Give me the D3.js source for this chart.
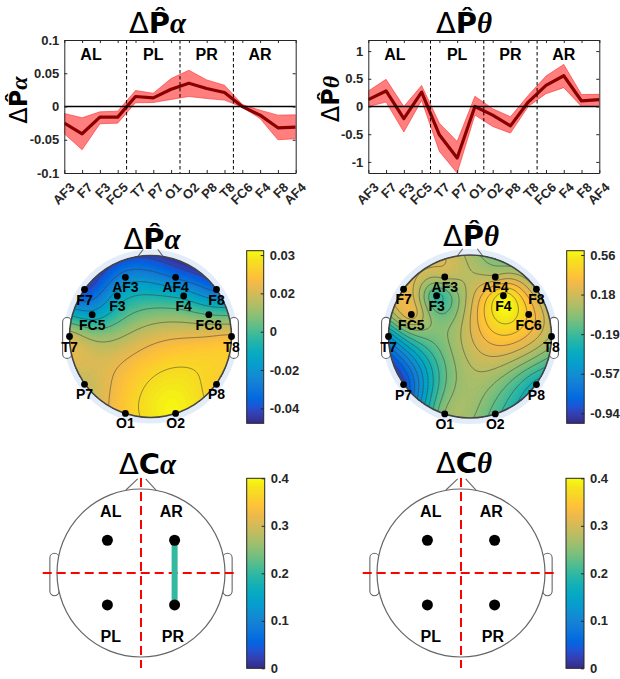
<!DOCTYPE html>
<html><head><meta charset="utf-8">
<script src="https://cdn.jsdelivr.net/npm/d3@7"></script>
<style>body{margin:0;background:#fff} svg{display:block} text{font-family:"Liberation Sans",Arial,Helvetica,sans-serif}</style>
</head><body><svg id="c" width="620" height="679"></svg>
<script>
// ---------------- data ----------------
const channels = ["AF3","F7","F3","FC5","T7","P7","O1","O2","P8","T8","FC6","F4","F8","AF4"];
const regions = ["AL","PL","PR","AR"];
const regionSizes = [4,3,3,4];

const alphaMean  = [-0.025,-0.041,-0.016,-0.016,0.015,0.013,0.026,0.035,0.027,0.021,0.000,-0.013,-0.032,-0.031];
const alphaUpper = [-0.0105,-0.017,-0.008,-0.007,0.024,0.020,0.042,0.0545,0.040,0.032,0.003,-0.0055,-0.013,-0.0125];
const alphaLower = [-0.041,-0.065,-0.026,-0.025,0.0056,0.006,0.0106,0.015,0.012,0.0096,-0.001,-0.018,-0.050,-0.0485];

const thetaMean  = [0.125,0.28,-0.22,0.26,-0.51,-0.93,0.0,-0.155,-0.35,0.08,0.38,0.555,0.10,0.125];
const thetaUpper = [0.28,0.49,0.0,0.38,-0.30,-0.63,0.185,-0.04,-0.185,0.20,0.55,0.76,0.215,0.22];
const thetaLower = [0.0,0.08,-0.46,0.11,-0.81,-1.2,-0.155,-0.36,-0.48,0.0,0.23,0.34,0.0,0.0];

const alphaYDomain = [-0.1, 0.1];
const alphaYTicks = [-0.1,-0.05,0,0.05,0.1];
const alphaYTickLabels = ["-0.1","-0.05","0","0.05","0.1"];
const thetaYDomain = [-1.2, 1.2];
const thetaYTicks = [-1,-0.5,0,0.5,1];
const thetaYTickLabels = ["-1","-0.5","0","0.5","1"];

// electrode locations on the scalp (unit head radius, x right, y toward back)
const chanX = [-0.31,-0.815,-0.41,-0.72,-1.0,-0.815,-0.31,0.31,0.815,1.0,0.72,0.41,0.815,0.31];
const chanY = [-0.73,-0.58,-0.50,-0.27,0.0,0.59,0.95,0.95,0.59,0.0,-0.27,-0.50,-0.58,-0.73];

const alphaCRange = [-0.0467, 0.0366];
const alphaCTicks = [0.0345,0.016,-0.0025,-0.021,-0.0395];
const alphaCTickLabels = ["0.03","0.02","0","-0.02","-0.04"];
const thetaCRange = [-1.039, 0.599];
const thetaCTicks = [0.558,0.1825,-0.193,-0.5685,-0.944];
const thetaCTickLabels = ["0.56","0.18","-0.19","-0.57","-0.94"];

const connRegions = ["AL","AR","PL","PR"];
const connAlpha = [{from:"AR", to:"PR", value:0.2}];
const connTheta = [];
const connCRange = [0, 0.4];
const connCTicks = [0,0.1,0.2,0.3,0.4];
const connCTickLabels = ["0","0.1","0.2","0.3","0.4"];

// parula colormap (every 3rd row of the 64-row table)
const parulaRows = [
 [0.2081,0.1663,0.5292],[0.2081,0.2386,0.6771],[0.1253,0.3242,0.8303],[0.0060,0.4086,0.8828],
 [0.0498,0.4586,0.8641],[0.0779,0.5040,0.8384],[0.0641,0.5570,0.8240],[0.0265,0.6137,0.8135],
 [0.0228,0.6535,0.7768],[0.0590,0.6838,0.7254],[0.1453,0.7098,0.6646],[0.2586,0.7317,0.5954],
 [0.3953,0.7459,0.5244],[0.5300,0.7491,0.4661],[0.6473,0.7456,0.4188],[0.7525,0.7384,0.3768],
 [0.8507,0.7299,0.3360],[0.9450,0.7261,0.2886],[0.9990,0.7653,0.2164],[0.9789,0.8271,0.1633],
 [0.9589,0.8949,0.1132],[0.9763,0.9831,0.0538]];

// ---------------- helpers ----------------
const svg = d3.select("#c");
const defs = svg.append("defs");
const AXC = "#262626";
const parula = d3.scaleLinear()
  .domain(parulaRows.map((r,i)=>i/(parulaRows.length-1)))
  .range(parulaRows.map(r=>d3.rgb(r[0]*255,r[1]*255,r[2]*255)))
  .interpolate(d3.interpolateRgb).clamp(true);

function title(cx, by, size, sym, greek, hat, rotate) {
  const t = svg.append("text").attr("text-anchor","middle").attr("font-size",size).attr("fill","#000");
  if (rotate) t.attr("transform",`translate(${cx},${by}) rotate(-90)`).attr("dy","0.35em");
  else t.attr("x",cx).attr("y",by);
  t.append("tspan").attr("font-family","DejaVu Sans").attr("font-weight","normal").text("Δ");
  t.append("tspan").attr("font-family","DejaVu Sans").attr("font-weight","bold").text(hat ? sym+"\u0302" : sym);
  t.append("tspan").attr("font-family","Liberation Serif").attr("font-style","italic").attr("font-weight","bold").text(greek);
}

let clipN = 0;
function lineChart(o) {
  const g = svg.append("g");
  const x = d3.scalePoint().domain(channels).range([o.x0,o.x1]);
  const y = d3.scaleLinear().domain(o.domain).range([o.y1,o.y0]);
  const id = "clip" + (clipN++);
  defs.append("clipPath").attr("id",id).append("rect")
    .attr("x",o.x0).attr("y",o.y0).attr("width",o.x1-o.x0).attr("height",o.y1-o.y0);
  const pg = g.append("g").attr("clip-path",`url(#${id})`);
  const area = d3.area().x((d,i)=>x(channels[i])).y0((d,i)=>y(o.lo[i])).y1((d,i)=>y(o.up[i]));
  pg.append("path").datum(o.mean).attr("d",area)
    .attr("fill","#ff0000").attr("fill-opacity",0.5).attr("stroke","#ff2020").attr("stroke-opacity",0.55).attr("stroke-width",1);
  const line = d3.line().x((d,i)=>x(channels[i])).y(d=>y(d));
  pg.append("path").datum(o.mean).attr("d",line).attr("fill","none")
    .attr("stroke","#8a0000").attr("stroke-width",3.2).attr("stroke-linejoin","round");
  pg.append("line").attr("x1",o.x0).attr("x2",o.x1).attr("y1",y(0)).attr("y2",y(0))
    .attr("stroke","#000").attr("stroke-width",1.6);
  // region boundaries & labels
  const step = x.step();
  const cum = d3.cumsum(regionSizes);
  const bounds = [-0.5, ...Array.from(cum).map(c => c - 0.5)];
  bounds[bounds.length-1] = channels.length - 1.5;
  for (let k=1;k<bounds.length-1;k++) {
    const bx = o.x0 + bounds[k]*step;
    g.append("line").attr("x1",bx).attr("x2",bx).attr("y1",o.y0).attr("y2",o.y1)
      .attr("stroke","#000").attr("stroke-width",1).attr("stroke-dasharray","3.5,2.5");
  }
  regions.forEach((r,k) => {
    g.append("text").attr("x", o.x0 + (bounds[k]+bounds[k+1])/2*step).attr("y", o.y0+20)
      .attr("text-anchor","middle").attr("font-size",16).attr("font-weight","bold").attr("fill","#000").text(r);
  });
  // axes
  const style = sel => { sel.selectAll("path.domain").attr("stroke",AXC); sel.selectAll(".tick line").attr("stroke",AXC); };
  g.append("g").attr("transform",`translate(0,${o.y1})`).call(d3.axisBottom(x).tickSize(-3).tickSizeOuter(0).tickFormat("")).call(style);
  g.append("g").attr("transform",`translate(0,${o.y0})`).call(d3.axisTop(x).tickSize(-3).tickSizeOuter(0).tickFormat("")).call(style);
  const la = g.append("g").attr("transform",`translate(${o.x0},0)`)
    .call(d3.axisLeft(y).tickValues(o.ticks).tickSize(-3).tickSizeOuter(0).tickPadding(5).tickFormat((d,i)=>o.tickLabels[i])).call(style);
  la.selectAll("text").attr("font-size",13).attr("font-weight","bold").attr("fill",AXC).attr("font-family",'"Liberation Sans",Arial,sans-serif');
  g.append("g").attr("transform",`translate(${o.x1},0)`)
    .call(d3.axisRight(y).tickValues(o.ticks).tickSize(-3).tickSizeOuter(0).tickFormat("")).call(style);
  channels.forEach(c => {
    g.append("text").attr("transform",`translate(${x(c)+8},${o.y1+12}) rotate(-45)`)
      .attr("text-anchor","end").attr("dy","0.35em").attr("font-size",13).attr("font-weight","bold").attr("fill",AXC).text(c);
  });
}

function solve(A, b) {
  const n = b.length; const M = A.map((r,i)=>[...r, b[i]]);
  for (let c=0;c<n;c++){
    let p=c; for(let r=c+1;r<n;r++) if(Math.abs(M[r][c])>Math.abs(M[p][c])) p=r;
    [M[c],M[p]]=[M[p],M[c]];
    for(let r=0;r<n;r++){ if(r===c) continue; const f=M[r][c]/M[c][c]; for(let k=c;k<=n;k++) M[r][k]-=f*M[c][k]; }
  }
  return M.map((r,i)=>r[n]/r[i]);
}
function biharmonic(px, py, z) {
  const g = d => d>0 ? d*d*(Math.log(d)-1) : 0;
  const X = px.map(v=>v*0.5), Y = py.map(v=>v*0.5);
  const G = X.map((xi,i)=>X.map((xj,j)=>g(Math.hypot(xi-xj, Y[i]-Y[j]))));
  const w = solve(G, z);
  return (x,y) => { let s=0; const xs=x*0.5, ys=y*0.5; for(let j=0;j<w.length;j++) s+=w[j]*g(Math.hypot(xs-X[j], ys-Y[j])); return s; };
}

function ears(g, R, fill) {
  [-1,1].forEach(s => g.append("rect")
    .attr("x", s<0 ? -1.085*R : 0.975*R).attr("y",-0.235*R).attr("width",0.11*R).attr("height",0.505*R)
    .attr("rx",0.055*R).attr("fill",fill).attr("stroke","#666").attr("stroke-width",1.1));
}

function topo(o) {
  const R = o.R;
  const g = svg.append("g").attr("transform",`translate(${o.cx},${o.cy})`);
  g.append("circle").attr("r",R*1.075).attr("fill","#e3edfa");
  ears(g, R, "#fff");
  [[-0.158,-0.985,-0.089,-1.077],[0.158,-0.985,0.089,-1.077]].forEach(l =>
    g.append("line").attr("x1",l[0]*R).attr("y1",l[1]*R).attr("x2",l[2]*R).attr("y2",l[3]*R).attr("stroke","#666").attr("stroke-width",1.1));
  const n = 121, ext = 1.06, st = 2*ext/(n-1);
  const f = biharmonic(chanX, chanY, o.values);
  const grid = new Float64Array(n*n);
  for (let j=0;j<n;j++) for (let i=0;i<n;i++) grid[j*n+i] = f(-ext+i*st, -ext+j*st);
  const tr = d3.geoTransform({point(x,y){ this.stream.point((-ext+(x-0.5)*st)*R, (-ext+(y-0.5)*st)*R); }});
  const path = d3.geoPath(tr);
  const id = "clip" + (clipN++);
  defs.append("clipPath").attr("id",id).append("circle").attr("cx",o.cx).attr("cy",o.cy).attr("r",R);
  const mg = svg.append("g").attr("clip-path",`url(#${id})`).append("g").attr("transform",`translate(${o.cx},${o.cy})`);
  const [dmin,dmax] = o.range;
  const color = v => parula((v-dmin)/(dmax-dmin));
  mg.append("circle").attr("r",R+2).attr("fill",color(dmin));
  const nLev = 90, dl = (dmax-dmin)/nLev;
  const th = d3.range(nLev).map(k => dmin + k*dl);
  mg.selectAll("path.f").data(d3.contours().size([n,n]).thresholds(th)(grid)).join("path")
    .attr("d",path).attr("fill",d=>color(d.value+dl/2)).attr("stroke",d=>color(d.value+dl/2)).attr("stroke-width",0.3);
  mg.selectAll("path.l").data(d3.contours().size([n,n]).thresholds(o.levels)(grid)).join("path")
    .attr("d",path).attr("fill","none").attr("stroke","#3c3c3c").attr("stroke-opacity",0.75).attr("stroke-width",0.7);
  const fg = svg.append("g").attr("transform",`translate(${o.cx},${o.cy})`);
  fg.append("circle").attr("r",R).attr("fill","none").attr("stroke","#444").attr("stroke-width",1.6);
  channels.forEach((c,i) => {
    fg.append("circle").attr("cx",chanX[i]*R).attr("cy",chanY[i]*R).attr("r",3.4).attr("fill","#000");
    fg.append("text").attr("x",chanX[i]*R).attr("y",chanY[i]*R+15).attr("text-anchor","middle")
      .attr("font-size",14).attr("font-weight","bold").attr("fill","#000").text(c);
  });
}

function colorbar(o) {
  const id = "grad" + (clipN++);
  const gr = defs.append("linearGradient").attr("id",id).attr("x1",0).attr("y1",1).attr("x2",0).attr("y2",0);
  d3.range(64).forEach(k => gr.append("stop").attr("offset",k/63).attr("stop-color",parula(k/63)));
  svg.append("rect").attr("x",o.x).attr("y",o.y).attr("width",o.w).attr("height",o.h)
    .attr("fill",`url(#${id})`).attr("stroke",AXC).attr("stroke-width",1);
  const s = d3.scaleLinear().domain(o.range).range([o.y+o.h, o.y]);
  const a = svg.append("g").attr("transform",`translate(${o.x+o.w},0)`)
    .call(d3.axisRight(s).tickValues(o.ticks).tickSize(-3).tickSizeOuter(0).tickPadding(6).tickFormat((d,i)=>o.labels[i]));
  a.select("path.domain").remove();
  a.selectAll(".tick line").attr("stroke",AXC);
  a.selectAll("text").attr("font-size",13).attr("font-weight","bold").attr("fill",AXC).attr("font-family",'"Liberation Sans",Arial,sans-serif');
}

function connHead(o) {
  const R = o.R;
  const g = svg.append("g").attr("transform",`translate(${o.cx},${o.cy})`);
  ears(g, R, "#fff");
  g.append("circle").attr("r",R).attr("fill","#fff").attr("stroke","#666").attr("stroke-width",1.2);
  [[-0.179,-0.988,-0.04,-1.12],[0.179,-0.988,0.056,-1.12]].forEach(l =>
    g.append("line").attr("x1",l[0]*R).attr("y1",l[1]*R).attr("x2",l[2]*R).attr("y2",l[3]*R).attr("stroke","#666").attr("stroke-width",1.1));
  g.append("line").attr("x1",-1.17*R).attr("x2",1.16*R).attr("y1",0).attr("y2",0)
    .attr("stroke","#ff0000").attr("stroke-width",2).attr("stroke-dasharray","9,5");
  g.append("line").attr("x1",0).attr("x2",0).attr("y1",-1.13*R).attr("y2",1.13*R)
    .attr("stroke","#ff0000").attr("stroke-width",2).attr("stroke-dasharray","9,5");
  const pos = {AL:[-0.40,-0.39], AR:[0.40,-0.39], PL:[-0.40,0.38], PR:[0.40,0.38]};
  const lab = {AL:[-0.36,-0.665], AR:[0.36,-0.665], PL:[-0.36,0.82], PR:[0.38,0.82]};
  const cs = d3.scaleLinear().domain(connCRange).range([0,1]);
  o.conn.forEach(c => {
    g.append("line").attr("x1",pos[c.from][0]*R).attr("y1",pos[c.from][1]*R).attr("x2",pos[c.to][0]*R).attr("y2",pos[c.to][1]*R)
      .attr("stroke",parula(cs(c.value))).attr("stroke-width",6);
  });
  connRegions.forEach(r => {
    g.append("circle").attr("cx",pos[r][0]*R).attr("cy",pos[r][1]*R).attr("r",5.5).attr("fill","#000");
    g.append("text").attr("x",lab[r][0]*R).attr("y",lab[r][1]*R).attr("text-anchor","middle")
      .attr("font-size",16).attr("font-weight","bold").attr("fill","#000").text(r);
  });
}

// ---------------- draw ----------------
lineChart({x0:64.3, x1:295.7, y0:40, y1:173, mean:alphaMean, up:alphaUpper, lo:alphaLower,
  domain:alphaYDomain, ticks:alphaYTicks, tickLabels:alphaYTickLabels});
lineChart({x0:368.3, x1:599.3, y0:40, y1:173, mean:thetaMean, up:thetaUpper, lo:thetaLower,
  domain:thetaYDomain, ticks:thetaYTicks, tickLabels:thetaYTickLabels});
title(157.5, 33, 29, "P", "α", true);
title(464, 33, 29, "P", "θ", true);
title(19, 100, 24, "P", "α", true, true);
title(331, 99, 24, "P", "θ", true, true);

topo({cx:150.5, cy:336.5, R:81, values:alphaMean, range:alphaCRange, levels:d3.range(-0.04,0.035,0.01)});
topo({cx:470, cy:336.5, R:81.5, values:thetaMean, range:thetaCRange, levels:d3.range(-1.0,0.6,0.1)});
title(152, 249, 29, "P", "α", true);
title(471, 246, 29, "P", "θ", true);
colorbar({x:246.7, y:250.7, w:17, h:172.6, range:alphaCRange, ticks:alphaCTicks, labels:alphaCTickLabels});
colorbar({x:566.7, y:250.7, w:17.5, h:172.6, range:thetaCRange, ticks:thetaCTicks, labels:thetaCTickLabels});

connHead({cx:141, cy:573, R:84, conn:connAlpha});
connHead({cx:461, cy:573, R:84, conn:connTheta});
title(147.5, 474, 29, "C", "α", false);
title(464, 473, 29, "C", "θ", false);
colorbar({x:246.7, y:478.3, w:18, h:190, range:connCRange, ticks:connCTicks, labels:connCTickLabels});
colorbar({x:566, y:478.3, w:18, h:190, range:connCRange, ticks:connCTicks, labels:connCTickLabels});
</script></body></html>
